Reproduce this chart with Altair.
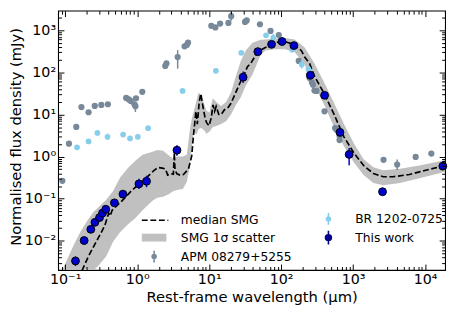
import json
import altair as alt
import pandas as pd

# ---------------- data ----------------
# APM 08279+5255
apm_x = [0.0913, 0.1127, 0.1426, 0.168, 0.2113, 0.2574, 0.3177, 0.392, 0.703, 0.766,
         0.815, 0.916, 0.945, 0.963, 1.178, 2.45, 2.55, 3.65, 4.55, 4.89, 5.09, 10.7,
         12.2, 14.2, 18.5, 20.2, 31.5, 33.2, 50.7, 71.2, 92.7, 175.5, 248, 267, 277,
         290, 309, 400, 561, 588, 650, 646, 2641, 4083, 7380, 12190]
apm_y = [0.266, 2.03, 5.07, 15.0, 11.3, 16.0, 16.9, 17.5, 24.7, 22.8,
         20.8, 17.5, 15.8, 24.3, 34.6, 142, 163, 231, 417, 449, 507, 1279,
         1170, 1442, 1496, 2158, 1578, 1715, 1391, 964, 770, 187, 73.1, 57.7, 50.7,
         37.0, 36.4, 11.9, 4.75, 4.33, 3.05, 2.47, 0.841, 0.647, 0.984, 1.18]
apm_err_x = [0.945, 3.65, 20.2, 4083]
apm_err_lo = [11.5, 123, 1688, 0.481]
apm_err_hi = [20.0, 339, 2704, 0.855]

# BR 1202-0725
br_x = [0.146, 0.211, 0.280, 0.387, 0.638, 0.795, 1.02, 1.42, 4.27, 12.4, 27.9, 61.7,
        77.6, 142, 193, 239]
br_y = [1.66, 2.29, 3.64, 2.95, 3.33, 2.70, 2.95, 4.73, 36.4, 109, 292, 762,
        658, 347, 155, 119]
br_err_x = [0.387, 77.6, 193]
br_err_lo = [2.50, 533, 123]
br_err_hi = [3.51, 811, 197]

# This work
tw_x = [0.139, 0.1834, 0.227, 0.259, 0.300, 0.330, 0.366, 0.483, 0.634, 1.058, 1.348,
        3.57, 29.6, 47.4, 73.5, 102.8, 150, 254, 401, 656, 879, 2558, 17600]
tw_y = [0.00333, 0.01016, 0.01875, 0.0275, 0.0357, 0.0456, 0.0562, 0.0798, 0.1285,
        0.225, 0.2595, 1.42, 76.9, 311, 464, 542, 433, 85.5, 28.5, 3.76, 1.128,
        0.1466, 0.593]
tw_err_x = [0.139, 1.058, 1.348, 3.57, 29.6, 879, 2558]
tw_err_lo = [0.00252, 0.169, 0.1875, 1.05, 56.2, 0.624, 0.123]
tw_err_hi = [0.00427, 0.300, 0.351, 1.87, 105, 1.60, 0.173]

# median SMG template
med_x = [0.171, 0.211, 0.261, 0.308, 0.355, 0.384, 0.402, 0.422, 0.449, 0.509, 0.601,
         0.697, 0.823, 1.016, 1.254, 1.467, 1.717, 1.965, 2.23, 2.47, 2.65, 2.89, 3.18,
         3.28, 3.35, 3.57, 3.92, 4.40, 4.81, 5.15, 5.45, 5.72, 6.03, 6.34, 6.54, 6.84,
         7.28, 7.65, 8.26, 8.69, 9.16, 9.97, 10.7, 11.3, 11.9, 12.5, 13.6, 14.7, 16.3,
         18.1, 20.1, 23.5, 27.5, 29.6, 34.0, 37.7, 47.4, 60.3, 73.5, 102.8, 139.6, 155,
         191, 212, 248, 290, 397, 544, 744, 1019, 1396, 1911, 2616, 3580, 6050, 10190,
         17220, 20200]
med_y = [0.00195, 0.00433, 0.00855, 0.01442, 0.0231, 0.0351, 0.0456, 0.039, 0.0534,
         0.0658, 0.0855, 0.111, 0.152, 0.208, 0.2805, 0.364, 0.473, 0.553, 0.533, 0.507,
         0.364, 0.396, 0.380, 1.233, 0.481, 0.390, 0.364, 0.376, 0.445, 0.514, 0.731,
         1.04, 2.95, 7.04, 11.9, 5.93, 20.0, 31.1, 14.2, 9.01, 6.47, 5.42, 8.41, 16.9,
         11.9, 15.5, 10, 10, 13.0, 14.2, 18.5, 33.9, 62.4, 76.9, 137, 163, 311, 390,
         464, 562, 481, 440, 328, 231, 163, 81.1, 31.1, 10, 2.95, 1.23, 0.615, 0.396,
         0.333, 0.333, 0.376, 0.473, 0.593, 0.624]

# SMG 1-sigma scatter band
band_x = [0.0904, 0.1058, 0.1318, 0.1643, 0.1983, 0.2471, 0.2891, 0.3717, 0.4630,
          0.5771, 0.7420, 0.9539, 1.189, 1.391, 1.627, 1.904, 2.299, 2.776, 3.148,
          3.569, 4.309, 4.887, 5.370, 5.716, 6.087, 6.690, 7.124, 7.829, 8.601, 9.158,
          10.06, 11.23, 12.54, 14.67, 17.17, 20.09, 23.50, 27.50, 32.17, 40.09, 51.54,
          60.31, 82.58, 113.0, 154.8, 211.9, 290.1, 397.2, 543.7, 744.5, 1019, 1395,
          1910, 2615, 4461, 8360, 17220, 20800]
band_lo = [0.0008, 0.0008, 0.0008, 0.0008, 0.00105, 0.00198, 0.00257, 0.00433, 0.00949,
           0.01601, 0.02434, 0.03511, 0.05337, 0.06934, 0.09006, 0.1054, 0.1110, 0.13,
           0.15, 0.16, 0.17, 0.25, 0.5623, 1.601, 3.899, 3.332, 4.560, 4.806, 4.108,
           3.511, 3.899, 5.064, 5.337, 5.926, 6.934, 10.0, 16.88, 25.65, 48.06, 90.1,
           256.6, 333.2, 356.7, 356.7, 300.1, 152, 48.06, 16.88, 4.985, 1.751, 0.7305,
           0.3642, 0.2347, 0.2081, 0.2347, 0.3049, 0.4174, 0.4560]
band_hi = [0.00198, 0.00351, 0.00811, 0.01688, 0.02848, 0.04805, 0.06245, 0.09491,
           0.1520, 0.3162, 0.5337, 0.8111, 1.110, 1.201, 1.299, 1.442, 1.369, 1.054,
           0.9005, 1.0, 1.0, 1.110, 4.108, 7.699, 11.70, 21.92, 33.32, 28.48, 16.88,
           12.33, 11.10, 24.34, 19.75, 16.01, 19.75, 33.32, 81.13, 187.4, 333.2, 506.4,
           592.7, 608, 640.9, 658, 601.9, 389.9, 162.7, 57.12, 18.45, 5.926, 2.081,
           0.8682, 0.5623, 0.4732, 0.5145, 0.6146, 0.7986, 0.8773]

# legend entries (column-major order for a 2-column legend)
legend_labels = ['median SMG', 'SMG 1σ scatter', 'APM 08279+5255', 'BR 1202-0725',
                 'This work']

# tick values / labels
x_major = [0.1, 1, 10, 100, 1000, 10000]
x_major_lbl = ['10⁻¹', '10⁰', '10¹', '10²', '10³', '10⁴']
y_major = [0.01, 0.1, 1, 10, 100, 1000]
y_major_lbl = ['10⁻²', '10⁻¹', '10⁰', '10¹', '10²', '10³']

# ---------------- layout / style ----------------
W, H = 394, 264
XDOM = [0.0797, 18900]
YDOM = [0.00203, 2920]

x_minor = [float(f"{m}e{k}") for k in range(-2, 5) for m in range(2, 10)]
x_minor = [v for v in x_minor if XDOM[0] <= v <= XDOM[1]]
y_minor = [float(f"{m}e{k}") for k in range(-3, 4) for m in range(2, 10)]
y_minor = [v for v in y_minor if YDOM[0] <= v <= YDOM[1]]

C_APM = '#778899'
C_BR = '#87ceeb'
C_TW = '#0000cd'
C_BAND = '#c0c0c0'

xs = alt.Scale(type='log', domain=XDOM, nice=False)
ys = alt.Scale(type='log', domain=YDOM, nice=False)


def lab_expr(vals, lbls):
    return (json.dumps(lbls, ensure_ascii=False) + '[indexof(' +
            json.dumps(vals) + ', datum.value)]')


def tick_axis(orient, offset, vals, size):
    return alt.Axis(orient=orient, offset=offset, values=vals, labels=False,
                    domain=False, grid=False, ticks=True, tickSize=size,
                    tickColor='black', tickWidth=1, title=None, zindex=1)


x_label_axis = alt.Axis(orient='bottom', values=x_major,
                        labelExpr=lab_expr(x_major, x_major_lbl), ticks=False,
                        tickSize=0, domain=False, grid=False, labelPadding=3,
                        labelFontSize=14.5, labelOverlap=False, labelFlush=False,
                        labelBound=False, labelColor='black',
                        title='Rest-frame wavelength (μm)', titleFontSize=15,
                        titleFontWeight='normal', titleBaseline='alphabetic',
                        titleY=32.3, titleColor='black')
y_label_axis = alt.Axis(orient='left', values=y_major,
                        labelExpr=lab_expr(y_major, y_major_lbl), ticks=False,
                        tickSize=0, domain=False, grid=False, labelPadding=2.5,
                        labelFontSize=14.5, labelOverlap=False, labelFlush=False,
                        labelBound=False, labelColor='black',
                        title='Normalised flux density (mJy)', titleFontSize=15,
                        titleFontWeight='normal', titleBaseline='alphabetic',
                        titleX=-38.5, titleY=128, titleColor='black')

band_df = pd.DataFrame({'x': band_x, 'lo': band_lo, 'hi': band_hi})
med_df = pd.DataFrame({'x': med_x, 'y': med_y})
apm_df = pd.DataFrame({'x': apm_x, 'y': apm_y})
apm_err_df = pd.DataFrame({'x': apm_err_x, 'lo': apm_err_lo, 'hi': apm_err_hi})
br_df = pd.DataFrame({'x': br_x, 'y': br_y})
br_err_df = pd.DataFrame({'x': br_err_x, 'lo': br_err_lo, 'hi': br_err_hi})
tw_df = pd.DataFrame({'x': tw_x, 'y': tw_y})
tw_err_df = pd.DataFrame({'x': tw_err_x, 'lo': tw_err_lo, 'hi': tw_err_hi})

band = alt.Chart(band_df).mark_area(color=C_BAND, opacity=1, clip=True,
                                    orient='vertical').encode(
    x=alt.X('x:Q', scale=xs, axis=x_label_axis),
    y=alt.Y('lo:Q', scale=ys, axis=y_label_axis),
    y2=alt.Y2('hi:Q'))

median = alt.Chart(med_df).mark_line(color='black', strokeWidth=1.7,
                                     strokeDash=[6, 2.7], clip=True).encode(
    x=alt.X('x:Q', scale=xs, axis=tick_axis('top', -H, x_major, 6)),
    y=alt.Y('y:Q', scale=ys, axis=tick_axis('right', -W, y_major, 6)),
    order='x:Q')

apm_err = alt.Chart(apm_err_df).mark_rule(color=C_APM, strokeWidth=1.5).encode(
    x=alt.X('x:Q', scale=xs, axis=tick_axis('top', -H, x_minor, 3.5)),
    y=alt.Y('lo:Q', scale=ys, axis=tick_axis('right', -W, y_minor, 3.5)),
    y2='hi:Q')

apm = alt.Chart(apm_df).mark_circle(color=C_APM, size=40, opacity=1).encode(
    x=alt.X('x:Q', scale=xs, axis=tick_axis('bottom', -H, x_major, 6)),
    y=alt.Y('y:Q', scale=ys, axis=tick_axis('left', -W, y_major, 6)))

br_err = alt.Chart(br_err_df).mark_rule(color=C_BR, strokeWidth=1.5).encode(
    x=alt.X('x:Q', scale=xs, axis=tick_axis('bottom', -H, x_minor, 3.5)),
    y=alt.Y('lo:Q', scale=ys, axis=tick_axis('left', -W, y_minor, 3.5)),
    y2='hi:Q')

br = alt.Chart(br_df).mark_circle(color=C_BR, size=34, opacity=1).encode(
    x=alt.X('x:Q', scale=xs, axis=None),
    y=alt.Y('y:Q', scale=ys, axis=None))

tw_err = alt.Chart(tw_err_df).mark_rule(color=C_TW, strokeWidth=1.5).encode(
    x=alt.X('x:Q', scale=xs, axis=None),
    y=alt.Y('lo:Q', scale=ys, axis=None),
    y2='hi:Q')

tw = alt.Chart(tw_df).mark_point(shape='circle', filled=True, fill=C_TW,
                                 stroke='black', strokeWidth=1, size=64,
                                 opacity=1).encode(
    x=alt.X('x:Q', scale=xs, axis=None),
    y=alt.Y('y:Q', scale=ys, axis=None))

# ---------------- legend (native Vega legend with custom symbol paths) ----------------
def bar_circle(h, r):
    return (f"M0,{-h}V{h}M{r},0A{r},{r},0,1,1,{-r},0A{r},{r},0,1,1,{r},0Z")

dash_path = "M-2.5,0H-1.3M-0.76,0H0.44M0.98,0H2.18M2.72,0H2.9"
patch_path = "M-2.5,-0.8H2.5V0.8H-2.5Z"
leg_shapes = [dash_path, patch_path, bar_circle(1.2, 0.4), bar_circle(1.2, 0.4),
              bar_circle(1.4, 0.6)]
leg_fills = ['transparent', C_BAND, C_APM, C_BR, C_TW]
leg_strokes = ['black', 'transparent', C_APM, C_BR, '#000080']

legend = alt.Legend(orient='none', legendX=85, legendY=205.5, columns=2,
                    columnPadding=24.5, rowPadding=-0.7, title=None, padding=0,
                    labelFontSize=12.5, labelColor='black', labelOffset=21,
                    symbolSize=100, symbolStrokeWidth=1.6, symbolOffset=6.5)

carrier = alt.Chart(pd.DataFrame({'series': legend_labels})).mark_point(
    filled=True, size=100, strokeWidth=1.6, opacity=1).encode(
    shape=alt.Shape('series:N', scale=alt.Scale(domain=legend_labels, range=leg_shapes),
                    legend=legend),
    fill=alt.Fill('series:N', scale=alt.Scale(domain=legend_labels, range=leg_fills),
                  legend=legend),
    stroke=alt.Stroke('series:N', scale=alt.Scale(domain=legend_labels, range=leg_strokes),
                      legend=legend),
).transform_filter('false')

chart = alt.layer(band, median, apm_err, apm, br_err, br, tw_err, tw, carrier).resolve_axis(
    x='independent', y='independent'
).properties(
    width=W, height=H,
    padding={'left': 51, 'top': 0, 'right': 4, 'bottom': 38},
    autosize=alt.AutoSizeParams(type='none'),
).configure(font='DejaVu Sans').configure_view(stroke='black', strokeWidth=1.1)

chart.save("out.html", embed_options={"renderer": "svg", "actions": False})
